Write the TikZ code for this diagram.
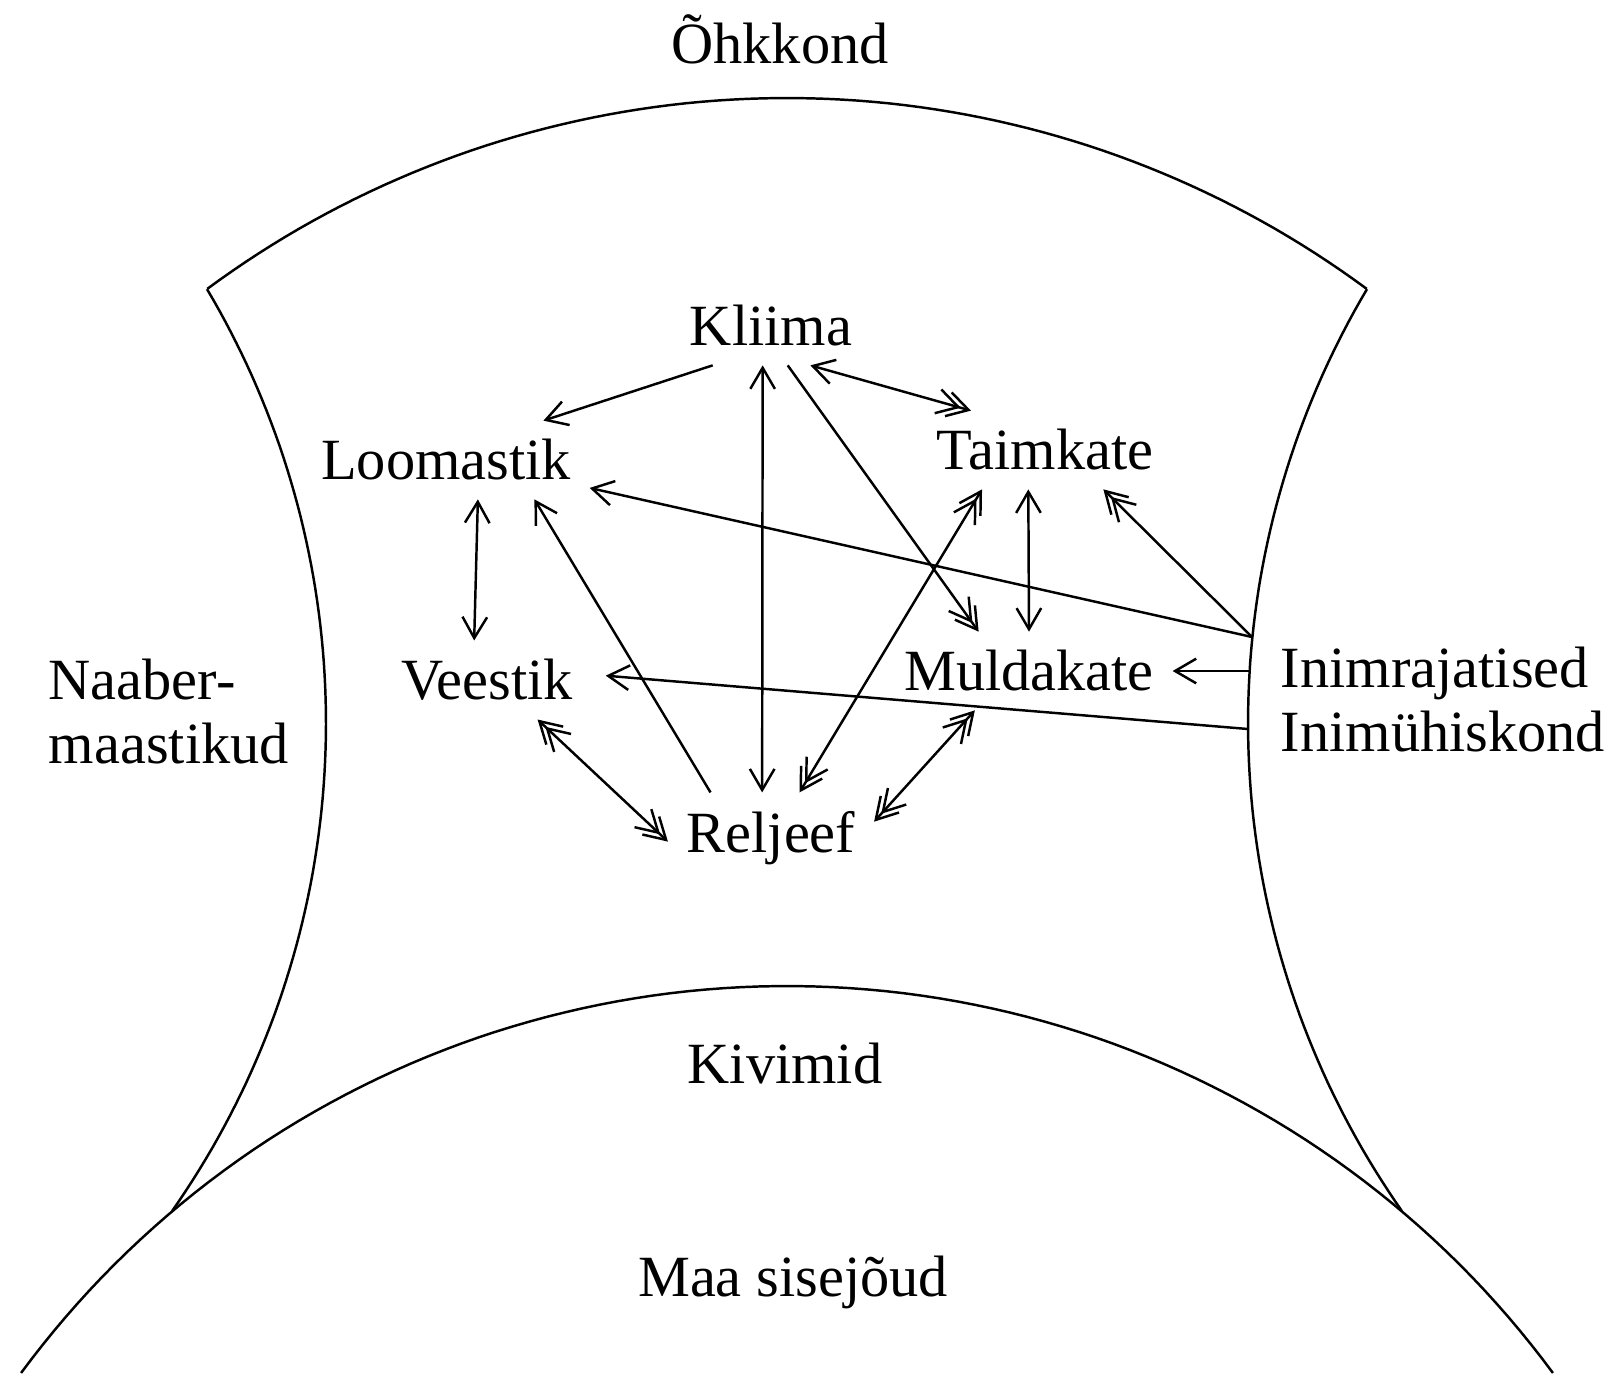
\documentclass[tikz,border=0pt]{standalone}
\usepackage{fontspec}
\setmainfont{Liberation Serif}
\usetikzlibrary{arrows.meta}

\tikzset{
  sh/.tip = {Straight Barb[length=6pt,width=7pt]},
  hh/.tip = {Straight Barb[length=6pt,width=7pt,sep=-4pt]Straight Barb[length=6pt,width=7pt]}
}

\begin{document}
\begin{tikzpicture}[x=0.01cm, y=-0.01cm, line width=0.7pt,
  lbl/.style = {font=\fontsize{16.6}{18.2}\selectfont, inner sep=5pt}]
\useasboundingbox (0,0) rectangle (1619,1382);

\node[lbl] (kliima) at (771,326) {Kliima};
\node[lbl] (loomastik) at (446,460) {Loomastik};
\node[lbl] (taimkate) at (1045,450) {Taimkate};
\node[lbl] (veestik) at (487,680) {Veestik};
\node[lbl] (muldakate) at (1029,671) {Muldakate};
\node[lbl] (reljeef) at (771,838) {Reljeef};
\node[lbl, anchor=base] (ohkkond) at (780,64) {Õhkkond};
\node[lbl, anchor=base] (kivimid) at (785,1083) {Kivimid};
\node[lbl, anchor=base] (sisejoud) at (793,1296) {Maa sisejõud};
\node[lbl, anchor=west, align=left] (naaber) at (30,712) {Naaber-\\maastikud};
\node[lbl, anchor=west, align=left] (inim) at (1262,700) {Inimrajatised\\Inimühiskond};

\coordinate (r1) at (1252,637);
\coordinate (r2) at (1250,671);
\coordinate (r3) at (1248,729);

\draw plot[domain=-126.44:-53.56, samples=80] ({787+976.1*cos(\x)}, {1074.1+976.1*sin(\x)});
\draw plot[domain=-30.66:35, samples=80] ({-524.9+850.9*cos(\x)}, {723+850.9*sin(\x)});
\draw plot[domain=145:210.66, samples=80] ({2098.9+850.9*cos(\x)}, {723+850.9*sin(\x)});
\draw plot[domain=-143.6:-36.4, samples=100] ({787+951.6*cos(\x)}, {1937.6+951.6*sin(\x)});

\draw[-{sh}] (kliima.214) -- (loomastik.22);
\draw[{sh}-{sh}] (kliima.258) -- (reljeef.101);
\draw[-{hh}] (kliima.293) -- (muldakate.142);
\draw[{sh}-{hh}] (kliima.-45) -- (taimkate.152);
\draw[{sh}-{sh}] (loomastik.-51) -- (veestik.108);
\draw[-{sh}] (reljeef.143) -- (loomastik.-24);
\draw[-{sh}] (r1) -- (loomastik.-11);
\draw[-{hh}] (r1) -- (taimkate.-34);
\draw[-{sh}] (r2) -- (muldakate.east);
\draw[-{sh}, shorten >=4pt] (r3) -- (veestik.3);
\draw[{hh}-{hh}] (veestik.-38) -- (reljeef.182);
\draw[{hh}-{hh}] (reljeef.58) -- (taimkate.212);
\draw[{hh}-{hh}] (reljeef.9) -- (muldakate.216);
\draw[{sh}-{sh}] (taimkate.247) -- (muldakate.north);
\end{tikzpicture}
\end{document}
